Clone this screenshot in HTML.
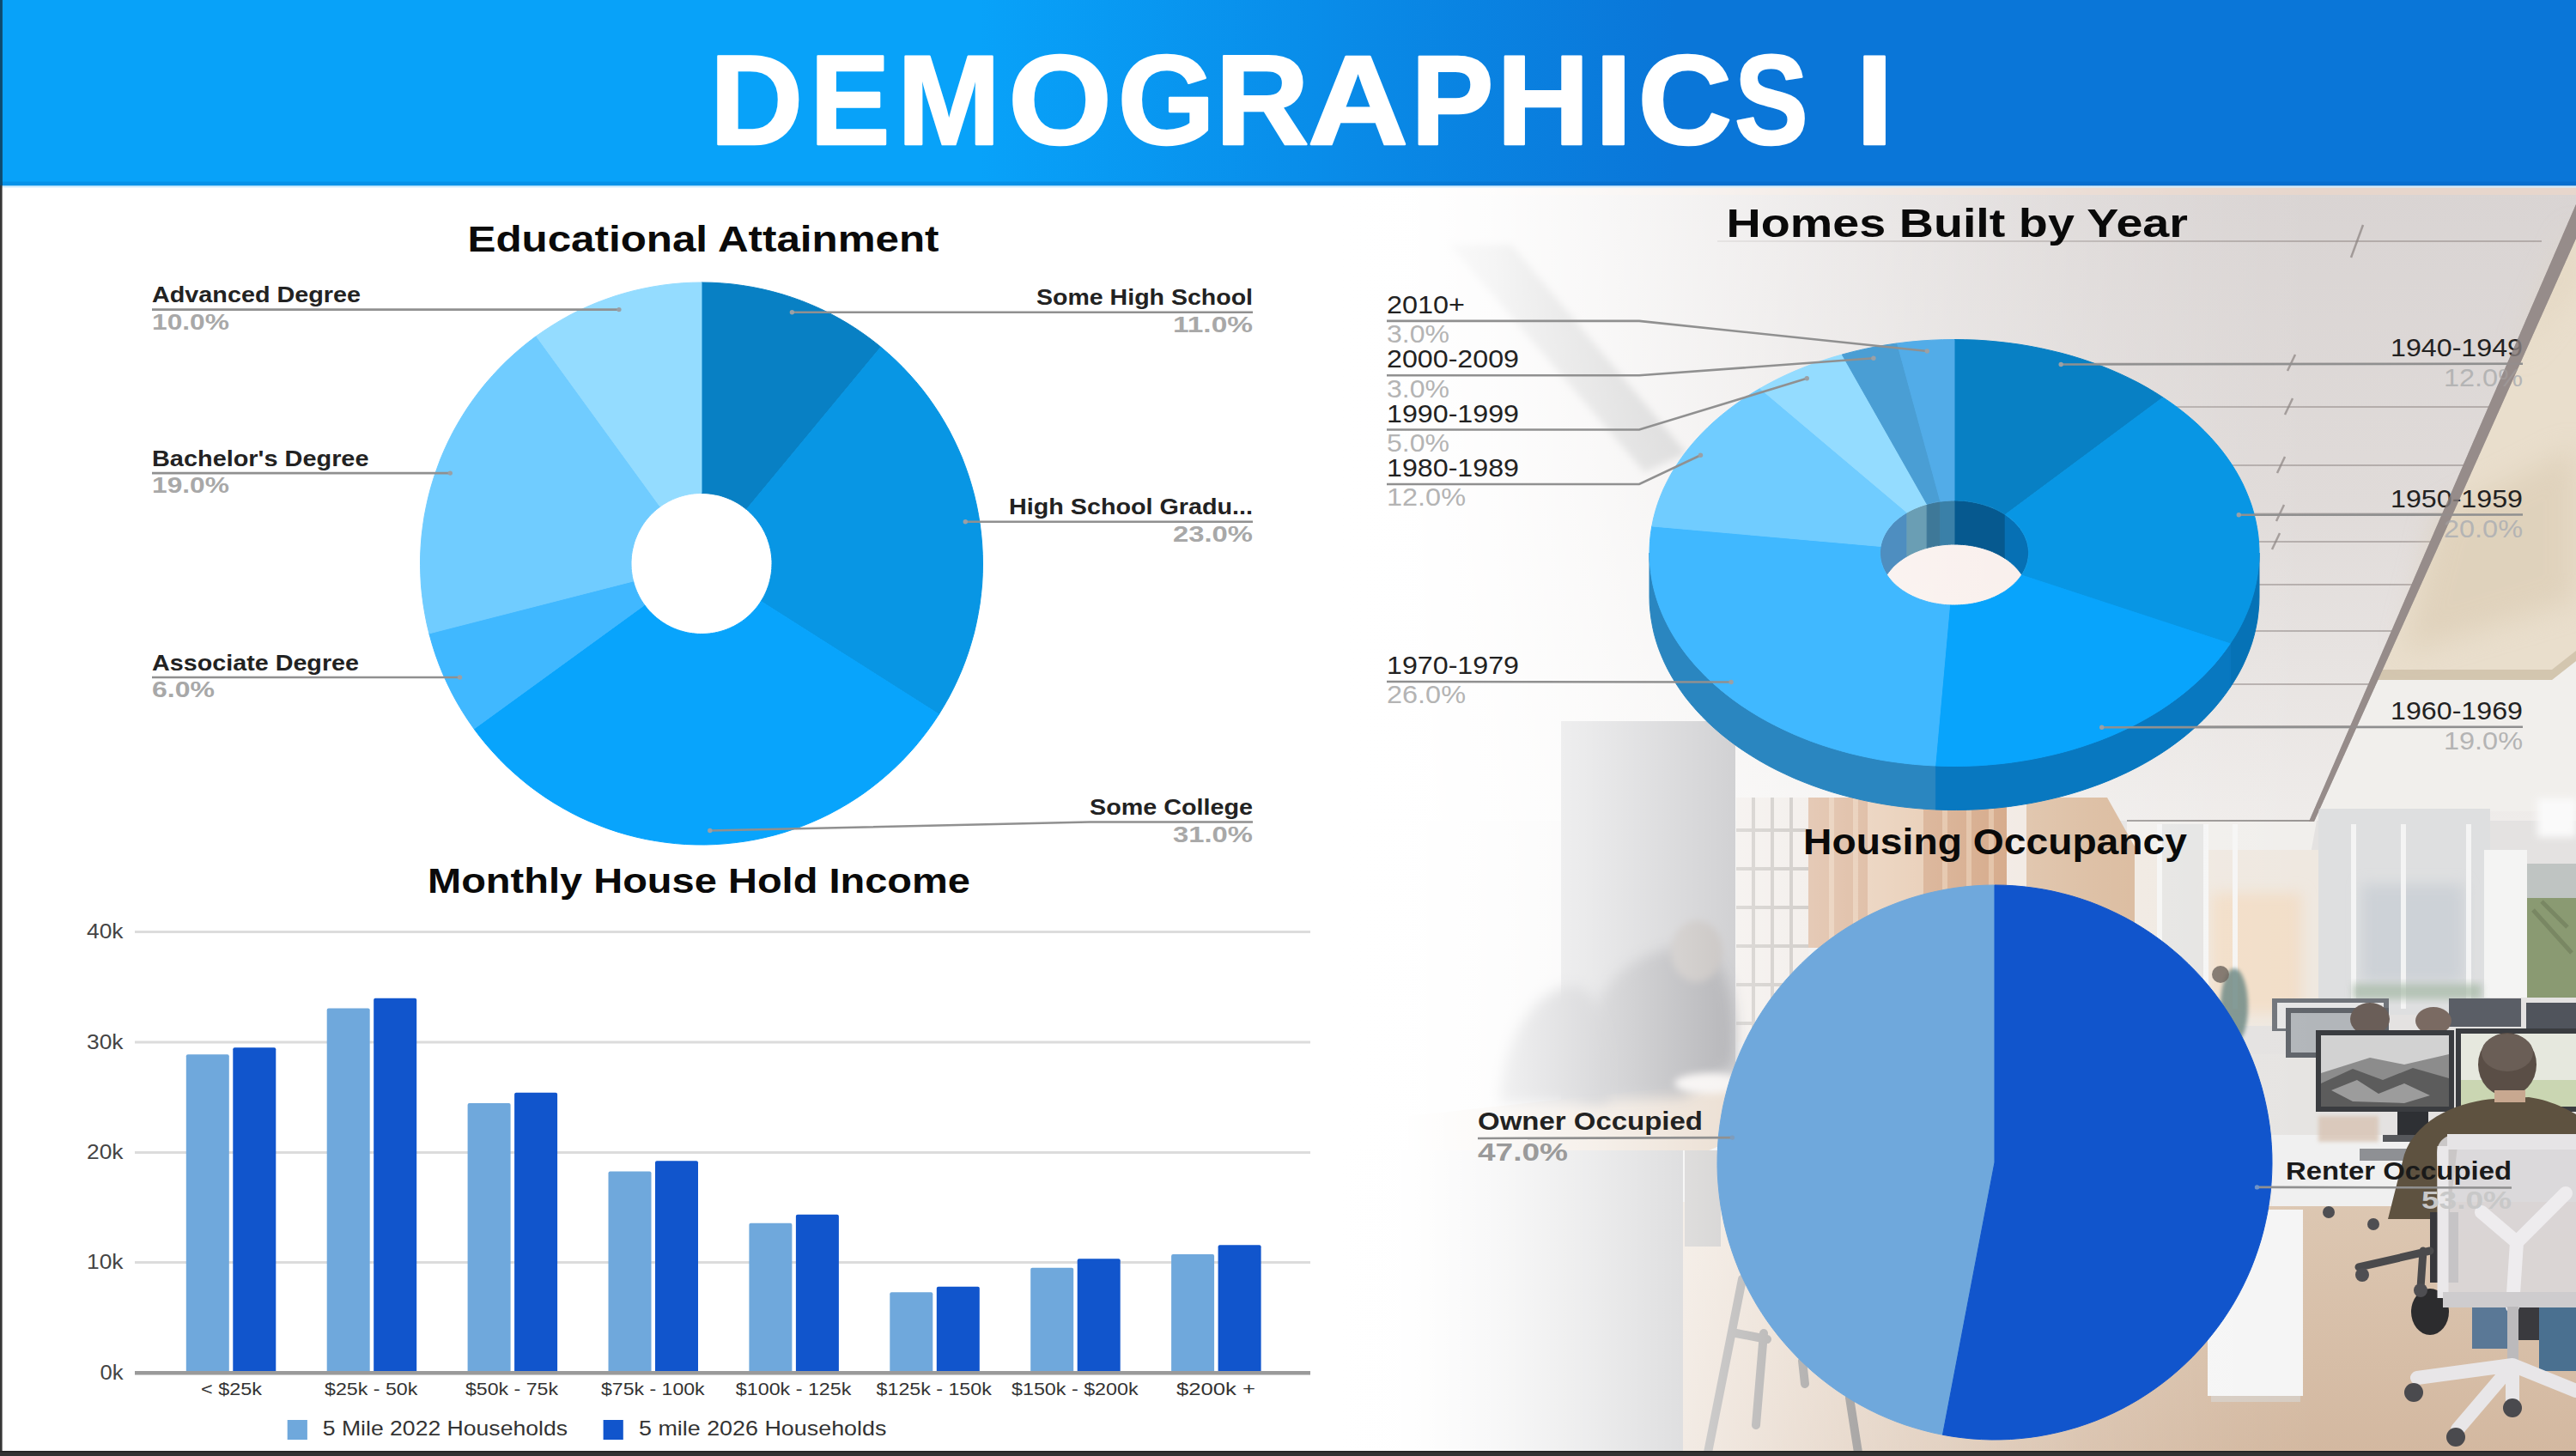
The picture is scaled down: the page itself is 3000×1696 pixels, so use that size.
<!DOCTYPE html>
<html><head><meta charset="utf-8"><title>Demographics I</title>
<style>
html,body{margin:0;padding:0;background:#fff}
body{width:3000px;height:1696px;overflow:hidden;font-family:"Liberation Sans",sans-serif}
svg{display:block}
text{font-family:"Liberation Sans",sans-serif}
</style></head><body>
<svg width="3000" height="1696" viewBox="0 0 3000 1696">
<defs>
<linearGradient id="hg" x1="0" x2="3000" y1="0" y2="0" gradientUnits="userSpaceOnUse"><stop offset="0.38" stop-color="#08A2F9"/><stop offset="0.65" stop-color="#0A76D8"/></linearGradient>
<linearGradient id="wf" x1="1560" x2="2700" y1="0" y2="0" gradientUnits="userSpaceOnUse"><stop offset="0.000" stop-color="#fff" stop-opacity="1.0"/><stop offset="0.070" stop-color="#fff" stop-opacity="0.995"/><stop offset="0.158" stop-color="#fff" stop-opacity="0.94"/><stop offset="0.254" stop-color="#fff" stop-opacity="0.84"/><stop offset="0.386" stop-color="#fff" stop-opacity="0.67"/><stop offset="0.518" stop-color="#fff" stop-opacity="0.49"/><stop offset="0.649" stop-color="#fff" stop-opacity="0.32"/><stop offset="0.781" stop-color="#fff" stop-opacity="0.16"/><stop offset="0.912" stop-color="#fff" stop-opacity="0.05"/><stop offset="1.000" stop-color="#fff" stop-opacity="0"/></linearGradient>
<linearGradient id="fl" x1="0" x2="0" y1="1380" y2="1696" gradientUnits="userSpaceOnUse"><stop offset="0" stop-color="#DDC8B3"/><stop offset="1" stop-color="#D3B8A0"/></linearGradient>
<linearGradient id="scr" x1="0" x2="0" y1="0" y2="1"><stop offset="0" stop-color="#D2D2D2"/><stop offset="0.45" stop-color="#9A9A9A"/><stop offset="1" stop-color="#5E5E5E"/></linearGradient>
<filter id="b2" x="-30%" y="-30%" width="160%" height="160%"><feGaussianBlur stdDeviation="2"/></filter>
<filter id="b4" x="-30%" y="-30%" width="160%" height="160%"><feGaussianBlur stdDeviation="4"/></filter>
<filter id="b8" x="-30%" y="-30%" width="160%" height="160%"><feGaussianBlur stdDeviation="8"/></filter>
<filter id="b16" x="-30%" y="-30%" width="160%" height="160%"><feGaussianBlur stdDeviation="16"/></filter>
<filter id="b30" x="-30%" y="-30%" width="160%" height="160%"><feGaussianBlur stdDeviation="30"/></filter>
</defs>
<g id="photo">
<linearGradient id="cg" x1="0" x2="0" y1="215" y2="960" gradientUnits="userSpaceOnUse"><stop offset="0" stop-color="#D9D4D3"/><stop offset="0.5" stop-color="#E0DBD9"/><stop offset="1" stop-color="#EFECEA"/></linearGradient>
<rect x="1480" y="215" width="1520" height="745" fill="url(#cg)"/>
<line x1="2000" y1="281" x2="2960" y2="281" stroke="#A39B99" stroke-width="2" opacity="0.7"/>
<line x1="2100" y1="423.5" x2="2960" y2="423.5" stroke="#A39B99" stroke-width="2" opacity="0.7"/>
<line x1="2100" y1="474" x2="2960" y2="474" stroke="#A39B99" stroke-width="2" opacity="0.7"/>
<line x1="2100" y1="542" x2="2960" y2="542" stroke="#A39B99" stroke-width="2" opacity="0.7"/>
<line x1="2100" y1="598.6" x2="2960" y2="598.6" stroke="#A39B99" stroke-width="2" opacity="0.7"/>
<line x1="2100" y1="631" x2="2960" y2="631" stroke="#A39B99" stroke-width="2" opacity="0.7"/>
<line x1="2420" y1="681" x2="2960" y2="681" stroke="#A39B99" stroke-width="2" opacity="0.7"/>
<line x1="2100" y1="735" x2="2960" y2="735" stroke="#A39B99" stroke-width="2" opacity="0.7"/>
<line x1="2100" y1="797" x2="2960" y2="797" stroke="#A39B99" stroke-width="2" opacity="0.7"/>
<line x1="2100" y1="846" x2="2960" y2="846" stroke="#A39B99" stroke-width="2" opacity="0.7"/>
<line x1="2673" y1="413" x2="2664" y2="432" stroke="#8A8280" stroke-width="2.5" opacity="0.7"/>
<line x1="2670" y1="464" x2="2661" y2="483" stroke="#8A8280" stroke-width="2.5" opacity="0.7"/>
<line x1="2661" y1="532" x2="2652" y2="551" stroke="#8A8280" stroke-width="2.5" opacity="0.7"/>
<line x1="2660" y1="588" x2="2651" y2="607" stroke="#8A8280" stroke-width="2.5" opacity="0.7"/>
<line x1="2655" y1="621" x2="2646" y2="640" stroke="#8A8280" stroke-width="2.5" opacity="0.7"/>
<line x1="2752" y1="262" x2="2738" y2="300" stroke="#8A8280" stroke-width="2.5" opacity="0.7"/>
<rect x="1480" y="218" width="1520" height="9" fill="#E8D6CB" opacity="0.9"/>
<ellipse cx="2276" cy="672" rx="110" ry="60" fill="#FBEDE8" opacity="0.85" filter="url(#b8)"/>
<linearGradient id="lf" x1="1700" y1="290" x2="1940" y2="540" gradientUnits="userSpaceOnUse"><stop offset="0" stop-color="#303030"/><stop offset="1" stop-color="#7A7A7A"/></linearGradient>
<polygon points="1688,285 1760,285 1964,528 1915,550" fill="url(#lf)" filter="url(#b4)" opacity="0.8"/>
<polygon points="3018,215 3000,215 3000,770 2972,792 2768,792" fill="#E9DECC"/>
<polygon points="2981,300 3000,260 3000,330 2929,420" fill="#E0D2BC" opacity="0.6" filter="url(#b16)"/>
<polygon points="2840,600 3000,520 3000,700 2800,760" fill="#DACBB2" opacity="0.6" filter="url(#b16)"/>
<polygon points="2768,792 2972,792 3000,770 3000,945 2702,945" fill="#F1EFEC"/>
<polygon points="2766,780 2972,780 3000,758 3000,770 2972,792 2760,792" fill="#CDBFA8" opacity="0.8"/>
<rect x="1480" y="956" width="1520" height="740" fill="#E4E2E1"/>
<rect x="2477" y="955" width="213" height="3" fill="#9A9694"/>
<polygon points="2477,957 2695,957 2729,880 3000,880 3000,945 2700,945 2690,1000 2477,1000" fill="#F1EFEC"/>
<polygon points="3010,215 3028,215 2856,600 2695,957 2689,957" fill="#968C8A"/>
<rect x="2470" y="990" width="240" height="205" fill="#EFE8E0"/>
<rect x="2575" y="1040" width="105" height="140" fill="#F2DEC8" filter="url(#b8)"/>
<rect x="2512" y="960" width="58" height="230" fill="#E2E2E2" opacity="0.8"/>
<rect x="2700" y="942" width="200" height="240" fill="#DEDFE0"/>
<rect x="2750" y="1030" width="120" height="115" fill="#CDD2D7" filter="url(#b8)"/>
<rect x="2512" y="960" width="6" height="215" fill="#F6F6F6" opacity="0.9"/>
<rect x="2566" y="960" width="6" height="215" fill="#F6F6F6" opacity="0.9"/>
<rect x="2600" y="960" width="6" height="215" fill="#F6F6F6" opacity="0.9"/>
<rect x="2738" y="960" width="6" height="215" fill="#F6F6F6" opacity="0.9"/>
<rect x="2796" y="960" width="6" height="215" fill="#F6F6F6" opacity="0.9"/>
<rect x="2872" y="960" width="6" height="215" fill="#F6F6F6" opacity="0.9"/>
<rect x="2893" y="990" width="50" height="172" fill="#F4F4F3"/>
<rect x="2943" y="1006" width="57" height="156" fill="#8A9A72"/>
<rect x="2943" y="1006" width="57" height="40" fill="#BFC4C2"/>
<path d="M2950,1060 L2995,1110 M2960,1050 L2990,1080" stroke="#6E7C5A" stroke-width="5" opacity="0.6"/>
<rect x="2955" y="930" width="45" height="45" fill="#FAFAFA" filter="url(#b4)"/>
<rect x="2740" y="1146" width="150" height="18" fill="#A4B8A4" opacity="0.7" filter="url(#b4)"/>
<ellipse cx="2602" cy="1172" rx="16" ry="44" fill="#6A8682" opacity="0.85" filter="url(#b2)"/>
<circle cx="2586" cy="1135" r="10" fill="#6A6058" opacity="0.85"/>
<rect x="2105" y="929" width="232" height="175" fill="#C78C61"/>
<rect x="2175" y="929" width="65" height="175" fill="#DDB592"/>
<rect x="2130" y="929" width="6" height="175" fill="#D9AC86"/>
<rect x="2158" y="929" width="6" height="175" fill="#D9AC86"/>
<rect x="2262" y="929" width="6" height="175" fill="#D9AC86"/>
<rect x="2290" y="929" width="6" height="175" fill="#D9AC86"/>
<rect x="2316" y="929" width="6" height="175" fill="#D9AC86"/>
<rect x="2337" y="929" width="24" height="175" fill="#EEE4DC"/>
<polygon points="2360,929 2454,929 2486,986 2486,1104 2360,1104" fill="#D7B494"/>
<rect x="2022" y="929" width="84" height="285" fill="#E6DDD6"/>
<rect x="2040" y="929" width="4" height="285" fill="#A09890"/>
<rect x="2062" y="929" width="4" height="285" fill="#A09890"/>
<rect x="2084" y="929" width="4" height="285" fill="#A09890"/>
<rect x="2022" y="965" width="84" height="4" fill="#A09890"/>
<rect x="2022" y="1010" width="84" height="4" fill="#A09890"/>
<rect x="2022" y="1055" width="84" height="4" fill="#A09890"/>
<rect x="2022" y="1100" width="84" height="4" fill="#A09890"/>
<rect x="2022" y="1145" width="84" height="4" fill="#A09890"/>
<rect x="2022" y="1190" width="84" height="4" fill="#A09890"/>
<rect x="1818" y="840" width="203" height="480" fill="#7E7E84"/>
<rect x="1480" y="1340" width="480" height="356" fill="#8E8E92"/>
<polygon points="1640,1300 2080,1252 2110,1290 1990,1340 1640,1340" fill="#C8A684"/>
<path d="M1840,1282 C1835,1170 1880,1112 1960,1102 C2012,1100 2024,1170 2018,1240 L1960,1278 Z" fill="#30323A" filter="url(#b8)"/>
<ellipse cx="1976" cy="1108" rx="30" ry="36" fill="#6A5E58" filter="url(#b4)"/>
<path d="M1745,1285 C1752,1195 1795,1148 1835,1148 C1870,1158 1878,1225 1872,1285 Z" fill="#2C2C34" filter="url(#b8)"/>
<ellipse cx="1990" cy="1262" rx="40" ry="12" fill="#E8E0DC" filter="url(#b4)"/>
<rect x="1960" y="1400" width="1040" height="296" fill="url(#fl)"/>
<rect x="2004" y="1340" width="680" height="62" fill="#DDC8B3"/>
<rect x="1962" y="1340" width="42" height="112" fill="#8E8A88"/>
<path d="M2029,1490 L1989,1692 M2054,1553 L2045,1660 M2022,1553 L2058,1560 M2099,1585 L2102,1612 M2154,1628 L2164,1692" stroke="#5E5A58" stroke-width="10" fill="none" stroke-linecap="round"/>
<rect x="2560" y="1300" width="100" height="105" fill="#EDEBEA"/>
<rect x="2620" y="1228" width="82" height="112" fill="#E6E4E2"/>
<rect x="2646" y="1322" width="178" height="83" fill="#F0F0F0"/>
<rect x="2700" y="1300" width="70" height="30" fill="#D8C4B4" opacity="0.8" filter="url(#b2)"/>
<rect x="2748" y="1338" width="75" height="14" fill="#8E9094"/>
<rect x="2571" y="1409" width="111" height="217" fill="#F5F5F5"/>
<rect x="2575" y="1626" width="104" height="7" fill="#D6CCC2"/>
<rect x="2646" y="1163" width="136" height="38" fill="#70747A"/>
<rect x="2652" y="1168" width="124" height="30" fill="#E6E6E6"/>
<rect x="2662" y="1174" width="120" height="58" fill="#60646A"/>
<rect x="2668" y="1180" width="108" height="46" fill="#B2B6BA"/>
<rect x="2852" y="1163" width="84" height="33" fill="#5A5E66"/>
<rect x="2942" y="1168" width="58" height="30" fill="#50545C"/>
<ellipse cx="2760" cy="1187" rx="23" ry="19" fill="#6A5E58"/>
<ellipse cx="2834" cy="1189" rx="21" ry="16" fill="#7A6A62"/>
<rect x="2697" y="1200" width="161" height="95" fill="#3A3C40"/>
<rect x="2703" y="1206" width="149" height="83" fill="#8C8C8C"/>
<polygon points="2703,1206 2852,1206 2852,1228 2800,1240 2760,1232 2703,1250" fill="#D2D2D2"/>
<polygon points="2703,1262 2740,1245 2775,1258 2810,1244 2852,1256 2852,1289 2703,1289" fill="#5C5C5C"/>
<polygon points="2715,1270 2745,1258 2770,1274 2800,1262 2830,1276 2800,1285 2740,1283" fill="#B8B8B8" opacity="0.7"/>
<rect x="2860" y="1198" width="140" height="97" fill="#3A3C40"/>
<rect x="2866" y="1204" width="134" height="85" fill="#E6E8DE"/>
<rect x="2866" y="1258" width="134" height="31" fill="#CAD6B2"/>
<rect x="2792" y="1295" width="36" height="30" fill="#2E3034"/>
<rect x="2775" y="1322" width="70" height="8" fill="#55575B"/>
<path d="M2781,1420 L2800,1345 C2815,1300 2870,1282 2905,1280 L2945,1278 C2975,1282 3000,1298 3000,1298 L3000,1335 L2862,1335 L2852,1420 Z" fill="#5E5240"/>
<ellipse cx="2920" cy="1240" rx="34" ry="37" fill="#5A4E46"/>
<ellipse cx="2920" cy="1226" rx="30" ry="22" fill="#6A5E56"/>
<rect x="2905" y="1270" width="36" height="14" fill="#C8A890"/>
<rect x="2830" y="1412" width="33" height="82" fill="#38383C"/>
<ellipse cx="2830" cy="1528" rx="22" ry="27" fill="#2C2C2E"/>
<path d="M2747,1476 L2830,1457 M2822,1457 L2819,1500" stroke="#4A4A4C" stroke-width="9" fill="none" stroke-linecap="round"/>
<circle cx="2751" cy="1485" r="8" fill="#4E4E52"/>
<circle cx="2819" cy="1503" r="8" fill="#4E4E52"/>
<circle cx="2712" cy="1412" r="7" fill="#4E4E52"/>
<circle cx="2764" cy="1426" r="7" fill="#4E4E52"/>
<rect x="2879" y="1523" width="42" height="48" fill="#5A7896"/>
<rect x="2920" y="1523" width="38" height="38" fill="#3A3A3E"/>
<rect x="2957" y="1523" width="43" height="74" fill="#4A7090"/>
<path d="M2838,1345 C2838,1328 2848,1321 2866,1321 L3000,1321 L3000,1522 L2866,1522 C2850,1522 2840,1512 2840,1495 Z" fill="#DAD7D9" opacity="0.88"/>
<rect x="2850" y="1321" width="150" height="18" fill="#E6E4E6"/>
<path d="M2845,1335 L2845,1512" stroke="#EAE8EA" stroke-width="13" fill="none"/>
<path d="M2890,1412 L2931,1447 L2988,1390 M2931,1447 L2926,1522" stroke="#EEECEE" stroke-width="16" fill="none" stroke-linecap="round" stroke-linejoin="round"/>
<rect x="2845" y="1505" width="155" height="18" fill="#CECCCE"/>
<rect x="2920" y="1522" width="13" height="70" fill="#BCBABC"/>
<path d="M2926,1590 L2815,1605 M2926,1590 L2862,1665 M2926,1590 L3000,1620 M2926,1590 L2926,1632" stroke="#E8E6E8" stroke-width="16" fill="none" stroke-linecap="round"/>
<circle cx="2811" cy="1622" r="11" fill="#4A4A4E"/>
<circle cx="2860" cy="1674" r="11" fill="#4A4A4E"/>
<circle cx="2926" cy="1640" r="11" fill="#4A4A4E"/>
</g>
<rect x="1480" y="215" width="80" height="1481" fill="#fff"/>
<rect x="1560" y="215" width="1140" height="1481" fill="url(#wf)"/>
<rect x="0" y="0" width="3000" height="216.5" fill="url(#hg)"/>
<rect x="0" y="211.5" width="3000" height="5" fill="#0050A0" opacity="0.18"/>
<rect x="0" y="216.5" width="3000" height="2" fill="#D4EEFF"/>
<text transform="translate(826.62,168.20) scale(1.0146,1)" font-size="148.5" font-weight="bold" fill="#fff" stroke="#fff" stroke-width="2.6" stroke-linejoin="round">D</text>
<text transform="translate(943.35,168.20) scale(0.9410,1)" font-size="148.5" font-weight="bold" fill="#fff" stroke="#fff" stroke-width="2.6" stroke-linejoin="round">E</text>
<text transform="translate(1045.06,168.20) scale(0.9708,1)" font-size="148.5" font-weight="bold" fill="#fff" stroke="#fff" stroke-width="2.6" stroke-linejoin="round">M</text>
<text transform="translate(1174.14,168.20) scale(1.0448,1)" font-size="148.5" font-weight="bold" fill="#fff" stroke="#fff" stroke-width="2.6" stroke-linejoin="round">O</text>
<text transform="translate(1301.64,168.20) scale(0.9790,1)" font-size="148.5" font-weight="bold" fill="#fff" stroke="#fff" stroke-width="2.6" stroke-linejoin="round">G</text>
<text transform="translate(1415.18,168.20) scale(1.0184,1)" font-size="148.5" font-weight="bold" fill="#fff" stroke="#fff" stroke-width="2.6" stroke-linejoin="round">R</text>
<text transform="translate(1522.96,168.20) scale(1.0921,1)" font-size="148.5" font-weight="bold" fill="#fff" stroke="#fff" stroke-width="2.6" stroke-linejoin="round">A</text>
<text transform="translate(1643.14,168.20) scale(0.9722,1)" font-size="148.5" font-weight="bold" fill="#fff" stroke="#fff" stroke-width="2.6" stroke-linejoin="round">P</text>
<text transform="translate(1742.96,168.20) scale(1.0103,1)" font-size="148.5" font-weight="bold" fill="#fff" stroke="#fff" stroke-width="2.6" stroke-linejoin="round">H</text>
<text transform="translate(1856.97,168.20) scale(1.0706,1)" font-size="148.5" font-weight="bold" fill="#fff" stroke="#fff" stroke-width="2.6" stroke-linejoin="round">I</text>
<text transform="translate(1907.57,168.20) scale(1.0228,1)" font-size="148.5" font-weight="bold" fill="#fff" stroke="#fff" stroke-width="2.6" stroke-linejoin="round">C</text>
<text transform="translate(2019.90,168.20) scale(0.8655,1)" font-size="148.5" font-weight="bold" fill="#fff" stroke="#fff" stroke-width="2.6" stroke-linejoin="round">S</text>
<text transform="translate(2160.97,168.20) scale(1.0706,1)" font-size="148.5" font-weight="bold" fill="#fff" stroke="#fff" stroke-width="2.6" stroke-linejoin="round">I</text>
<text x="544.5" y="293.0" font-size="42" font-weight="bold" fill="#0a0a0a" textLength="549.0" lengthAdjust="spacingAndGlyphs">Educational Attainment</text>
<text x="2010.5" y="276.0" font-size="46.5" font-weight="bold" fill="#0a0a0a" textLength="537.5" lengthAdjust="spacingAndGlyphs">Homes Built by Year</text>
<text x="498.0" y="1039.5" font-size="40" font-weight="bold" fill="#0a0a0a" textLength="632.0" lengthAdjust="spacingAndGlyphs">Monthly House Hold Income</text>
<text x="2100.0" y="995.4" font-size="43" font-weight="bold" fill="#0a0a0a" textLength="447.0" lengthAdjust="spacingAndGlyphs">Housing Occupancy</text>
<path d="M817.0,329.0 L828.9,329.2 L840.8,329.9 L852.7,330.9 L864.5,332.5 L876.2,334.4 L887.9,336.8 L899.5,339.6 L911.0,342.8 L922.3,346.4 L933.5,350.4 L944.6,354.9 L955.5,359.7 L966.2,364.9 L976.7,370.6 L987.0,376.6 L997.0,382.9 L1006.9,389.7 L1016.4,396.7 L1025.8,404.2 L869.3,593.3 L866.9,591.5 L864.5,589.7 L862.1,588.0 L859.6,586.4 L857.0,584.9 L854.3,583.5 L851.7,582.2 L848.9,581.0 L846.2,579.9 L843.4,578.9 L840.5,577.9 L837.7,577.1 L834.8,576.4 L831.8,575.9 L828.9,575.4 L825.9,575.0 L823.0,574.7 L820.0,574.6 L817.0,574.5Z" fill="#0880C4" stroke="#0880C4" stroke-width="1"/>
<path d="M1025.8,404.2 L1034.5,411.7 L1043.0,419.5 L1051.2,427.6 L1059.1,436.0 L1066.8,444.7 L1074.1,453.6 L1081.1,462.8 L1087.7,472.2 L1094.1,481.9 L1100.0,491.7 L1105.7,501.8 L1110.9,512.1 L1115.8,522.5 L1120.4,533.1 L1124.5,543.9 L1128.3,554.8 L1131.7,565.9 L1134.7,577.0 L1137.3,588.2 L1139.5,599.6 L1141.3,611.0 L1142.7,622.4 L1143.7,633.9 L1144.3,645.5 L1144.5,657.0 L1144.3,668.5 L1143.7,680.1 L1142.6,691.6 L1141.2,703.0 L1139.3,714.4 L1137.1,725.7 L1134.5,737.0 L1131.4,748.1 L1128.0,759.1 L1124.2,770.0 L1120.0,780.8 L1115.4,791.4 L1110.5,801.8 L1105.2,812.1 L1099.5,822.1 L1093.5,832.0 L886.2,700.4 L887.7,698.0 L889.2,695.5 L890.5,692.9 L891.7,690.3 L892.9,687.6 L893.9,684.9 L894.9,682.2 L895.7,679.4 L896.5,676.6 L897.1,673.8 L897.7,671.0 L898.2,668.1 L898.5,665.3 L898.8,662.4 L898.9,659.5 L899.0,656.6 L899.0,653.7 L898.8,650.8 L898.6,648.0 L898.2,645.1 L897.8,642.2 L897.2,639.4 L896.5,636.6 L895.8,633.8 L894.9,631.0 L894.0,628.3 L893.0,625.6 L891.8,623.0 L890.6,620.3 L889.3,617.8 L887.9,615.2 L886.4,612.8 L884.8,610.4 L883.1,608.0 L881.4,605.7 L879.5,603.5 L877.6,601.3 L875.6,599.2 L873.6,597.2 L871.5,595.2 L869.3,593.3Z" fill="#0896E4" stroke="#0896E4" stroke-width="1"/>
<path d="M1093.5,832.0 L1087.1,841.7 L1080.4,851.1 L1073.3,860.3 L1066.0,869.3 L1058.3,877.9 L1050.3,886.4 L1042.0,894.5 L1033.4,902.3 L1024.6,909.8 L1015.5,917.0 L1006.2,923.9 L996.6,930.4 L986.8,936.6 L976.7,942.4 L966.5,947.9 L956.1,953.0 L945.5,957.7 L934.8,962.1 L923.9,966.1 L912.9,969.7 L901.7,972.9 L890.4,975.7 L879.1,978.1 L867.7,980.1 L856.2,981.6 L844.7,982.8 L833.1,983.6 L821.5,984.0 L809.9,983.9 L798.3,983.5 L786.7,982.6 L775.2,981.3 L763.7,979.6 L752.3,977.6 L741.0,975.1 L729.8,972.2 L718.6,968.9 L707.6,965.2 L696.8,961.1 L686.1,956.7 L675.5,951.9 L665.2,946.7 L655.0,941.1 L645.0,935.2 L635.2,928.9 L625.7,922.3 L616.4,915.4 L607.4,908.1 L598.6,900.5 L590.1,892.7 L581.9,884.5 L574.0,876.0 L566.3,867.3 L559.0,858.3 L552.0,849.0 L750.7,704.7 L752.4,707.0 L754.2,709.3 L756.1,711.5 L758.1,713.6 L760.2,715.6 L762.3,717.6 L764.5,719.5 L766.8,721.3 L769.1,723.1 L771.5,724.7 L773.9,726.3 L776.4,727.8 L779.0,729.2 L781.6,730.5 L784.2,731.7 L786.9,732.8 L789.6,733.8 L792.4,734.7 L795.2,735.5 L798.0,736.3 L800.8,736.9 L803.7,737.4 L806.5,737.8 L809.4,738.1 L812.3,738.4 L815.2,738.5 L818.1,738.5 L821.0,738.4 L823.9,738.2 L826.8,737.9 L829.7,737.5 L832.5,737.0 L835.4,736.4 L838.2,735.7 L841.0,734.9 L843.8,734.0 L846.5,733.0 L849.2,731.9 L851.8,730.7 L854.4,729.5 L857.0,728.1 L859.5,726.6 L862.0,725.1 L864.4,723.4 L866.7,721.7 L869.0,719.9 L871.2,718.0 L873.3,716.1 L875.4,714.1 L877.4,711.9 L879.3,709.8 L881.2,707.5 L883.0,705.2 L884.6,702.9 L886.2,700.4Z" fill="#08A4FC" stroke="#08A4FC" stroke-width="1"/>
<path d="M552.0,849.0 L545.0,838.9 L538.3,828.5 L532.0,817.9 L526.1,807.0 L520.7,795.9 L515.6,784.7 L511.0,773.2 L506.8,761.6 L503.1,749.8 L499.8,737.9 L737.6,676.9 L738.4,679.9 L739.3,682.8 L740.4,685.7 L741.5,688.6 L742.8,691.4 L744.2,694.2 L745.6,696.9 L747.2,699.6 L748.9,702.2 L750.7,704.7Z" fill="#40B8FF" stroke="#40B8FF" stroke-width="1"/>
<path d="M499.8,737.9 L497.1,726.8 L494.9,715.5 L493.0,704.1 L491.5,692.7 L490.4,681.3 L489.8,669.8 L489.5,658.3 L489.6,646.8 L490.2,635.3 L491.1,623.9 L492.5,612.5 L494.2,601.1 L496.4,589.8 L498.9,578.6 L501.8,567.5 L505.2,556.4 L508.9,545.6 L512.9,534.8 L517.4,524.2 L522.2,513.8 L527.4,503.5 L533.0,493.4 L538.9,483.6 L545.1,473.9 L551.7,464.5 L558.6,455.3 L565.8,446.3 L573.4,437.7 L581.2,429.2 L589.3,421.1 L597.7,413.3 L606.4,405.7 L615.3,398.5 L624.5,391.5 L768.8,590.2 L766.5,591.9 L764.3,593.7 L762.1,595.6 L760.0,597.6 L758.0,599.6 L756.0,601.7 L754.1,603.9 L752.3,606.1 L750.6,608.4 L748.9,610.8 L747.4,613.2 L745.9,615.7 L744.5,618.2 L743.2,620.8 L742.0,623.4 L740.9,626.0 L739.8,628.7 L738.9,631.4 L738.1,634.2 L737.4,637.0 L736.7,639.8 L736.2,642.6 L735.7,645.5 L735.4,648.3 L735.2,651.2 L735.0,654.1 L735.0,657.0 L735.1,659.8 L735.2,662.7 L735.5,665.6 L735.9,668.4 L736.3,671.3 L736.9,674.1 L737.6,676.9Z" fill="#70CCFF" stroke="#70CCFF" stroke-width="1"/>
<path d="M624.5,391.5 L633.9,385.0 L643.5,378.8 L653.2,372.9 L663.2,367.3 L673.4,362.1 L683.8,357.3 L694.3,352.8 L705.0,348.8 L715.8,345.0 L726.7,341.7 L737.8,338.7 L748.9,336.2 L760.1,334.0 L771.4,332.2 L782.8,330.8 L794.2,329.8 L805.6,329.2 L817.0,329.0 L817.0,574.5 L814.1,574.5 L811.3,574.7 L808.4,574.9 L805.6,575.3 L802.8,575.7 L800.0,576.3 L797.2,576.9 L794.4,577.7 L791.7,578.5 L789.0,579.4 L786.3,580.5 L783.6,581.6 L781.1,582.8 L778.5,584.1 L776.0,585.5 L773.5,587.0 L771.1,588.5 L768.8,590.2Z" fill="#94DCFF" stroke="#94DCFF" stroke-width="1"/>
<path d="M177,360.6 L720.9,360.6" stroke="#909090" stroke-width="2.6" fill="none"/>
<text x="177.0" y="352.1" font-size="25" font-weight="bold" fill="#222" textLength="243.0" lengthAdjust="spacingAndGlyphs">Advanced Degree</text>
<text x="177.0" y="383.6" font-size="25" font-weight="bold" fill="#A8A8A8" textLength="90.0" lengthAdjust="spacingAndGlyphs">10.0%</text>
<circle cx="720.9" cy="360.6" r="2.7" fill="#9AA0A6"/>
<path d="M177,551.1 L524.3,551.1" stroke="#909090" stroke-width="2.6" fill="none"/>
<text x="177.0" y="542.6" font-size="25" font-weight="bold" fill="#222" textLength="252.5" lengthAdjust="spacingAndGlyphs">Bachelor's Degree</text>
<text x="177.0" y="574.1" font-size="25" font-weight="bold" fill="#A8A8A8" textLength="90.0" lengthAdjust="spacingAndGlyphs">19.0%</text>
<circle cx="524.3" cy="551.1" r="2.7" fill="#9AA0A6"/>
<path d="M177,789.0 L535.5,789.0" stroke="#909090" stroke-width="2.6" fill="none"/>
<text x="177.0" y="780.5" font-size="25" font-weight="bold" fill="#222" textLength="241.0" lengthAdjust="spacingAndGlyphs">Associate Degree</text>
<text x="177.0" y="812.0" font-size="25" font-weight="bold" fill="#A8A8A8" textLength="73.0" lengthAdjust="spacingAndGlyphs">6.0%</text>
<circle cx="535.5" cy="789.0" r="2.7" fill="#9AA0A6"/>
<path d="M922.4,363.8 L1459,363.8" stroke="#909090" stroke-width="2.6" fill="none"/>
<text x="1207.0" y="355.3" font-size="25" font-weight="bold" fill="#222" textLength="252.0" lengthAdjust="spacingAndGlyphs">Some High School</text>
<text x="1366.0" y="386.8" font-size="25" font-weight="bold" fill="#A8A8A8" textLength="93.0" lengthAdjust="spacingAndGlyphs">11.0%</text>
<circle cx="922.4" cy="363.8" r="2.7" fill="#9AA0A6"/>
<path d="M1124.3,607.8 L1459,607.8" stroke="#909090" stroke-width="2.6" fill="none"/>
<text x="1175.0" y="599.3" font-size="25" font-weight="bold" fill="#222" textLength="284.0" lengthAdjust="spacingAndGlyphs">High School Gradu...</text>
<text x="1366.0" y="630.8" font-size="25" font-weight="bold" fill="#A8A8A8" textLength="93.0" lengthAdjust="spacingAndGlyphs">23.0%</text>
<circle cx="1124.3" cy="607.8" r="2.7" fill="#9AA0A6"/>
<path d="M826.8,967.5 L1269.0,957.5 L1459,957.5" stroke="#909090" stroke-width="2.6" fill="none"/>
<text x="1269.0" y="949.0" font-size="25" font-weight="bold" fill="#222" textLength="190.0" lengthAdjust="spacingAndGlyphs">Some College</text>
<text x="1366.0" y="980.5" font-size="25" font-weight="bold" fill="#A8A8A8" textLength="93.0" lengthAdjust="spacingAndGlyphs">31.0%</text>
<circle cx="826.8" cy="967.5" r="2.7" fill="#9AA0A6"/>
<path d="M2631.0,644.0 L2630.8,653.1 L2630.0,662.2 L2628.9,671.3 L2627.2,680.3 L2625.1,689.3 L2622.5,698.2 L2619.4,707.1 L2615.8,715.8 L2611.9,724.5 L2607.4,733.1 L2602.5,741.5 L2597.2,749.8 L2597.2,800.8 L2602.5,792.5 L2607.4,784.1 L2611.9,775.5 L2615.8,766.8 L2619.4,758.1 L2622.5,749.2 L2625.1,740.3 L2627.2,731.3 L2628.9,722.3 L2630.0,713.2 L2630.8,704.1 L2631.0,695.0Z" fill="#0672B6" stroke="#0672B6" stroke-width="1"/>
<path d="M2597.2,749.8 L2591.7,757.6 L2585.8,765.3 L2579.5,772.9 L2572.9,780.2 L2565.9,787.5 L2558.5,794.5 L2550.8,801.3 L2542.7,808.0 L2534.3,814.4 L2525.6,820.7 L2516.6,826.7 L2507.3,832.5 L2497.7,838.1 L2487.8,843.4 L2477.7,848.5 L2467.3,853.3 L2456.7,857.9 L2445.9,862.2 L2434.8,866.2 L2423.6,870.0 L2412.2,873.5 L2400.6,876.7 L2388.8,879.6 L2376.9,882.2 L2364.9,884.6 L2352.8,886.6 L2340.6,888.4 L2328.3,889.8 L2315.9,890.9 L2303.5,891.8 L2291.1,892.3 L2278.6,892.5 L2266.2,892.4 L2253.7,892.0 L2253.7,943.0 L2266.2,943.4 L2278.6,943.5 L2291.1,943.3 L2303.5,942.8 L2315.9,941.9 L2328.3,940.8 L2340.6,939.4 L2352.8,937.6 L2364.9,935.6 L2376.9,933.2 L2388.8,930.6 L2400.6,927.7 L2412.2,924.5 L2423.6,921.0 L2434.8,917.2 L2445.9,913.2 L2456.7,908.9 L2467.3,904.3 L2477.7,899.5 L2487.8,894.4 L2497.7,889.1 L2507.3,883.5 L2516.6,877.7 L2525.6,871.7 L2534.3,865.4 L2542.7,859.0 L2550.8,852.3 L2558.5,845.5 L2565.9,838.5 L2572.9,831.2 L2579.5,823.9 L2585.8,816.3 L2591.7,808.6 L2597.2,800.8Z" fill="#0878C0" stroke="#0878C0" stroke-width="1"/>
<path d="M2253.7,892.0 L2241.3,891.3 L2228.9,890.3 L2216.6,889.0 L2204.4,887.4 L2192.2,885.5 L2180.2,883.3 L2168.3,880.8 L2156.5,878.0 L2144.8,874.9 L2133.3,871.6 L2122.0,867.9 L2110.9,864.0 L2100.0,859.8 L2089.3,855.4 L2078.8,850.6 L2068.6,845.7 L2058.6,840.5 L2048.9,835.0 L2039.5,829.3 L2030.4,823.4 L2021.5,817.3 L2013.0,810.9 L2004.8,804.4 L1996.9,797.6 L1989.4,790.7 L1982.2,783.5 L1975.4,776.2 L1969.0,768.8 L1962.9,761.2 L1957.3,753.4 L1952.0,745.5 L1947.1,737.5 L1942.6,729.4 L1938.5,721.1 L1934.9,712.8 L1931.6,704.4 L1928.8,695.9 L1926.4,687.4 L1924.5,678.7 L1923.0,670.1 L1921.9,661.4 L1921.2,652.7 L1921.0,644.0 L1921.0,695.0 L1921.2,703.7 L1921.9,712.4 L1923.0,721.1 L1924.5,729.7 L1926.4,738.4 L1928.8,746.9 L1931.6,755.4 L1934.9,763.8 L1938.5,772.1 L1942.6,780.4 L1947.1,788.5 L1952.0,796.5 L1957.3,804.4 L1962.9,812.2 L1969.0,819.8 L1975.4,827.2 L1982.2,834.5 L1989.4,841.7 L1996.9,848.6 L2004.8,855.4 L2013.0,861.9 L2021.5,868.3 L2030.4,874.4 L2039.5,880.3 L2048.9,886.0 L2058.6,891.5 L2068.6,896.7 L2078.8,901.6 L2089.3,906.4 L2100.0,910.8 L2110.9,915.0 L2122.0,918.9 L2133.3,922.6 L2144.8,925.9 L2156.5,929.0 L2168.3,931.8 L2180.2,934.3 L2192.2,936.5 L2204.4,938.4 L2216.6,940.0 L2228.9,941.3 L2241.3,942.3 L2253.7,943.0Z" fill="#2A86C0" stroke="#2A86C0" stroke-width="1"/>
<clipPath id="hole"><ellipse cx="2276" cy="644" rx="86.5" ry="61"/></clipPath>
<g clip-path="url(#hole)">
<path d="M2276.0,583.0 L2279.1,583.0 L2282.2,583.2 L2285.3,583.4 L2288.4,583.6 L2291.4,584.0 L2294.5,584.4 L2297.5,584.9 L2300.5,585.5 L2303.5,586.2 L2306.4,586.9 L2309.3,587.7 L2312.1,588.6 L2314.9,589.5 L2317.7,590.5 L2320.4,591.6 L2323.0,592.8 L2325.6,594.0 L2328.1,595.3 L2330.5,596.7 L2332.9,598.1 L2335.2,599.5 L2335.2,650.5 L2332.9,649.1 L2330.5,647.7 L2328.1,646.3 L2325.6,645.0 L2323.0,643.8 L2320.4,642.6 L2317.7,641.5 L2314.9,640.5 L2312.1,639.6 L2309.3,638.7 L2306.4,637.9 L2303.5,637.2 L2300.5,636.5 L2297.5,635.9 L2294.5,635.4 L2291.4,635.0 L2288.4,634.6 L2285.3,634.4 L2282.2,634.2 L2279.1,634.0 L2276.0,634.0Z" fill="#06598F" stroke="#06598F" stroke-width="1"/>
<path d="M2335.2,599.5 L2337.4,601.0 L2339.5,602.6 L2341.6,604.2 L2343.5,605.9 L2345.4,607.6 L2347.2,609.4 L2348.9,611.2 L2350.5,613.0 L2352.0,614.9 L2353.4,616.8 L2354.8,618.8 L2356.0,620.8 L2357.1,622.8 L2358.1,624.8 L2359.0,626.9 L2359.8,629.0 L2360.5,631.1 L2361.1,633.2 L2361.6,635.4 L2362.0,637.5 L2362.3,639.7 L2362.4,641.8 L2362.5,644.0 L2362.5,695.0 L2362.4,692.8 L2362.3,690.7 L2362.0,688.5 L2361.6,686.4 L2361.1,684.2 L2360.5,682.1 L2359.8,680.0 L2359.0,677.9 L2358.1,675.8 L2357.1,673.8 L2356.0,671.8 L2354.8,669.8 L2353.4,667.8 L2352.0,665.9 L2350.5,664.0 L2348.9,662.2 L2347.2,660.4 L2345.4,658.6 L2343.5,656.9 L2341.6,655.2 L2339.5,653.6 L2337.4,652.0 L2335.2,650.5Z" fill="#0670B4" stroke="#0670B4" stroke-width="1"/>
<path d="M2189.5,644.0 L2189.6,641.4 L2189.8,638.9 L2190.2,636.4 L2190.2,687.4 L2189.8,689.9 L2189.6,692.4 L2189.5,695.0Z" fill="#2A86C0" stroke="#2A86C0" stroke-width="1"/>
<path d="M2190.2,636.4 L2190.6,634.2 L2191.2,632.0 L2191.8,629.9 L2192.6,627.8 L2193.5,625.7 L2194.5,623.6 L2195.6,621.5 L2196.8,619.5 L2198.1,617.5 L2199.5,615.6 L2201.0,613.7 L2202.6,611.8 L2204.2,609.9 L2206.0,608.1 L2207.9,606.4 L2209.8,604.7 L2211.9,603.0 L2214.0,601.5 L2216.2,599.9 L2218.5,598.4 L2220.9,597.0 L2220.9,648.0 L2218.5,649.4 L2216.2,650.9 L2214.0,652.5 L2211.9,654.0 L2209.8,655.7 L2207.9,657.4 L2206.0,659.1 L2204.2,660.9 L2202.6,662.8 L2201.0,664.7 L2199.5,666.6 L2198.1,668.5 L2196.8,670.5 L2195.6,672.5 L2194.5,674.6 L2193.5,676.7 L2192.6,678.8 L2191.8,680.9 L2191.2,683.0 L2190.6,685.2 L2190.2,687.4Z" fill="#4E8EC0" stroke="#4E8EC0" stroke-width="1"/>
<path d="M2220.9,597.0 L2223.2,595.7 L2225.6,594.4 L2228.1,593.2 L2230.7,592.0 L2233.3,591.0 L2235.9,589.9 L2238.6,589.0 L2241.4,588.1 L2244.2,587.3 L2244.2,638.3 L2241.4,639.1 L2238.6,640.0 L2235.9,640.9 L2233.3,642.0 L2230.7,643.0 L2228.1,644.2 L2225.6,645.4 L2223.2,646.7 L2220.9,648.0Z" fill="#6A9EB4" stroke="#6A9EB4" stroke-width="1"/>
<path d="M2244.2,587.3 L2247.2,586.5 L2250.3,585.8 L2253.4,585.1 L2256.6,584.6 L2259.8,584.1 L2259.8,635.1 L2256.6,635.6 L2253.4,636.1 L2250.3,636.8 L2247.2,637.5 L2244.2,638.3Z" fill="#3E7898" stroke="#3E7898" stroke-width="1"/>
<path d="M2259.8,584.1 L2263.0,583.7 L2266.2,583.4 L2269.5,583.2 L2272.7,583.0 L2276.0,583.0 L2276.0,634.0 L2272.7,634.0 L2269.5,634.2 L2266.2,634.4 L2263.0,634.7 L2259.8,635.1Z" fill="#3A80A8" stroke="#3A80A8" stroke-width="1"/>
</g>
<path d="M2276.0,395.5 L2288.7,395.7 L2301.5,396.1 L2314.2,396.9 L2326.8,398.1 L2339.4,399.5 L2351.9,401.2 L2364.3,403.3 L2376.6,405.7 L2388.7,408.4 L2400.7,411.3 L2412.6,414.6 L2424.3,418.2 L2435.7,422.1 L2447.0,426.2 L2458.1,430.7 L2468.9,435.4 L2479.5,440.4 L2489.8,445.6 L2499.8,451.1 L2509.6,456.9 L2519.0,462.9 L2335.2,599.5 L2332.9,598.1 L2330.5,596.7 L2328.1,595.3 L2325.6,594.0 L2323.0,592.8 L2320.4,591.6 L2317.7,590.5 L2314.9,589.5 L2312.1,588.6 L2309.3,587.7 L2306.4,586.9 L2303.5,586.2 L2300.5,585.5 L2297.5,584.9 L2294.5,584.4 L2291.4,584.0 L2288.4,583.6 L2285.3,583.4 L2282.2,583.2 L2279.1,583.0 L2276.0,583.0Z" fill="#0880C4" stroke="#0880C4" stroke-width="1"/>
<path d="M2519.0,462.9 L2527.9,468.9 L2536.5,475.2 L2544.7,481.6 L2552.7,488.3 L2560.3,495.1 L2567.5,502.2 L2574.4,509.4 L2580.9,516.8 L2587.1,524.3 L2592.9,532.0 L2598.3,539.8 L2603.3,547.7 L2607.9,555.8 L2612.1,563.9 L2615.8,572.2 L2619.2,580.5 L2622.2,588.9 L2624.7,597.4 L2626.8,606.0 L2628.5,614.6 L2629.8,623.2 L2630.6,631.9 L2631.0,640.5 L2630.9,649.2 L2630.4,657.9 L2629.5,666.5 L2628.2,675.1 L2626.4,683.7 L2624.2,692.3 L2621.6,700.7 L2618.6,709.2 L2615.1,717.5 L2611.3,725.7 L2607.0,733.9 L2602.3,741.9 L2597.2,749.8 L2354.3,670.0 L2355.5,668.0 L2356.6,666.1 L2357.7,664.1 L2358.6,662.0 L2359.5,660.0 L2360.2,657.9 L2360.9,655.8 L2361.4,653.8 L2361.8,651.6 L2362.1,649.5 L2362.4,647.4 L2362.5,645.3 L2362.5,643.1 L2362.4,641.0 L2362.2,638.9 L2361.9,636.8 L2361.5,634.7 L2361.0,632.6 L2360.4,630.5 L2359.6,628.4 L2358.8,626.4 L2357.9,624.3 L2356.9,622.3 L2355.7,620.4 L2354.5,618.4 L2353.2,616.5 L2351.8,614.6 L2350.3,612.8 L2348.7,611.0 L2347.0,609.2 L2345.3,607.5 L2343.4,605.8 L2341.5,604.1 L2339.5,602.6 L2337.4,601.0 L2335.2,599.5Z" fill="#0896E4" stroke="#0896E4" stroke-width="1"/>
<path d="M2597.2,749.8 L2591.7,757.6 L2585.8,765.3 L2579.5,772.9 L2572.9,780.2 L2565.9,787.5 L2558.5,794.5 L2550.8,801.3 L2542.7,808.0 L2534.3,814.4 L2525.6,820.7 L2516.6,826.7 L2507.3,832.5 L2497.7,838.1 L2487.8,843.4 L2477.7,848.5 L2467.3,853.3 L2456.7,857.9 L2445.9,862.2 L2434.8,866.2 L2423.6,870.0 L2412.2,873.5 L2400.6,876.7 L2388.8,879.6 L2376.9,882.2 L2364.9,884.6 L2352.8,886.6 L2340.6,888.4 L2328.3,889.8 L2315.9,890.9 L2303.5,891.8 L2291.1,892.3 L2278.6,892.5 L2266.2,892.4 L2253.7,892.0 L2270.6,704.9 L2273.6,705.0 L2276.6,705.0 L2279.7,704.9 L2282.7,704.8 L2285.7,704.6 L2288.7,704.3 L2291.7,704.0 L2294.7,703.6 L2297.7,703.1 L2300.6,702.5 L2303.5,701.8 L2306.4,701.1 L2309.2,700.3 L2312.0,699.5 L2314.7,698.6 L2317.4,697.6 L2320.0,696.5 L2322.6,695.4 L2325.1,694.2 L2327.6,692.9 L2330.0,691.6 L2332.4,690.3 L2334.6,688.9 L2336.8,687.4 L2338.9,685.8 L2341.0,684.3 L2343.0,682.6 L2344.8,680.9 L2346.6,679.2 L2348.3,677.4 L2350.0,675.6 L2351.5,673.8 L2352.9,671.9 L2354.3,670.0Z" fill="#08A4FC" stroke="#08A4FC" stroke-width="1"/>
<path d="M2253.7,892.0 L2241.1,891.3 L2228.6,890.3 L2216.2,888.9 L2203.8,887.3 L2191.5,885.4 L2179.3,883.1 L2167.2,880.5 L2155.3,877.7 L2143.5,874.5 L2131.9,871.1 L2120.5,867.4 L2109.2,863.4 L2098.2,859.1 L2087.4,854.5 L2076.9,849.7 L2066.6,844.6 L2056.5,839.3 L2046.7,833.7 L2037.3,827.9 L2028.1,821.9 L2019.2,815.6 L2010.7,809.1 L2002.5,802.4 L1994.6,795.5 L1987.1,788.4 L1980.0,781.1 L1973.2,773.7 L1966.8,766.1 L1960.8,758.3 L1955.2,750.4 L1950.0,742.4 L1945.2,734.2 L1940.9,725.9 L1936.9,717.6 L1933.4,709.1 L1930.3,700.5 L1927.7,691.9 L1925.4,683.2 L1923.7,674.5 L1922.4,665.7 L1921.5,656.9 L1921.0,648.1 L1921.1,639.2 L1921.5,630.4 L1922.4,621.6 L1923.8,612.9 L2190.2,636.4 L2189.9,638.5 L2189.6,640.7 L2189.5,642.8 L2189.5,645.0 L2189.6,647.2 L2189.8,649.3 L2190.2,651.5 L2190.6,653.6 L2191.1,655.8 L2191.8,657.9 L2192.5,660.0 L2193.4,662.1 L2194.3,664.1 L2195.4,666.1 L2196.6,668.1 L2197.8,670.1 L2199.2,672.1 L2200.7,674.0 L2202.2,675.8 L2203.9,677.7 L2205.6,679.4 L2207.4,681.2 L2209.4,682.9 L2211.4,684.5 L2213.4,686.1 L2215.6,687.7 L2217.8,689.1 L2220.1,690.6 L2222.5,691.9 L2225.0,693.3 L2227.5,694.5 L2230.1,695.7 L2232.7,696.8 L2235.4,697.9 L2238.1,698.8 L2240.9,699.7 L2243.7,700.6 L2246.6,701.4 L2249.5,702.1 L2252.4,702.7 L2255.4,703.2 L2258.4,703.7 L2261.4,704.1 L2264.5,704.5 L2267.5,704.7 L2270.6,704.9Z" fill="#40B8FF" stroke="#40B8FF" stroke-width="1"/>
<path d="M1923.8,612.9 L1925.6,604.0 L1927.9,595.2 L1930.6,586.5 L1933.8,577.9 L1937.4,569.3 L1941.5,560.9 L1945.9,552.5 L1950.8,544.3 L1956.2,536.2 L1961.9,528.2 L1968.0,520.4 L1974.6,512.7 L1981.5,505.2 L1988.8,497.9 L1996.5,490.8 L2004.5,483.9 L2012.9,477.2 L2021.6,470.7 L2030.7,464.4 L2040.0,458.3 L2049.7,452.5 L2220.9,597.0 L2218.5,598.4 L2216.2,599.9 L2214.0,601.5 L2211.9,603.0 L2209.8,604.7 L2207.9,606.4 L2206.0,608.1 L2204.2,609.9 L2202.6,611.8 L2201.0,613.7 L2199.5,615.6 L2198.1,617.5 L2196.8,619.5 L2195.6,621.5 L2194.5,623.6 L2193.5,625.7 L2192.6,627.8 L2191.8,629.9 L2191.2,632.0 L2190.6,634.2 L2190.2,636.4Z" fill="#70CCFF" stroke="#70CCFF" stroke-width="1"/>
<path d="M2049.7,452.5 L2059.4,447.1 L2069.3,441.9 L2079.5,437.0 L2090.0,432.3 L2100.7,427.9 L2111.5,423.8 L2122.6,419.9 L2133.9,416.3 L2145.3,413.0 L2244.2,587.3 L2241.4,588.1 L2238.6,589.0 L2235.9,589.9 L2233.3,591.0 L2230.7,592.0 L2228.1,593.2 L2225.6,594.4 L2223.2,595.7 L2220.9,597.0Z" fill="#94DCFF" stroke="#94DCFF" stroke-width="1"/>
<path d="M2145.3,413.0 L2157.8,409.7 L2170.6,406.7 L2183.4,404.1 L2196.4,401.8 L2209.5,399.9 L2259.8,584.1 L2256.6,584.6 L2253.4,585.1 L2250.3,585.8 L2247.2,586.5 L2244.2,587.3Z" fill="#4A9ED4" stroke="#4A9ED4" stroke-width="1"/>
<path d="M2209.5,399.9 L2222.7,398.3 L2235.9,397.1 L2249.3,396.2 L2262.6,395.7 L2276.0,395.5 L2276.0,583.0 L2272.7,583.0 L2269.5,583.2 L2266.2,583.4 L2263.0,583.7 L2259.8,584.1Z" fill="#52ACE8" stroke="#52ACE8" stroke-width="1"/>
<path d="M1615,373.9 L1909,373.9 L2244.3,409.0" stroke="#909090" stroke-width="2.6" fill="none"/>
<text x="1615.0" y="364.9" font-size="29.6" font-weight="normal" fill="#222" textLength="91.0" lengthAdjust="spacingAndGlyphs">2010+</text>
<text x="1615.0" y="399.2" font-size="29.6" font-weight="normal" fill="#B4B4B4" textLength="73.0" lengthAdjust="spacingAndGlyphs">3.0%</text>
<circle cx="2244.3" cy="409.0" r="2.7" fill="#9AA0A6"/>
<path d="M1615,437.3 L1909,437.3 L2181.9,417.3" stroke="#909090" stroke-width="2.6" fill="none"/>
<text x="1615.0" y="428.3" font-size="29.6" font-weight="normal" fill="#222" textLength="154.0" lengthAdjust="spacingAndGlyphs">2000-2009</text>
<text x="1615.0" y="462.6" font-size="29.6" font-weight="normal" fill="#B4B4B4" textLength="73.0" lengthAdjust="spacingAndGlyphs">3.0%</text>
<circle cx="2181.9" cy="417.3" r="2.7" fill="#9AA0A6"/>
<path d="M1615,500.5 L1909,500.5 L2104.3,440.8" stroke="#909090" stroke-width="2.6" fill="none"/>
<text x="1615.0" y="491.5" font-size="29.6" font-weight="normal" fill="#222" textLength="154.0" lengthAdjust="spacingAndGlyphs">1990-1999</text>
<text x="1615.0" y="525.8" font-size="29.6" font-weight="normal" fill="#B4B4B4" textLength="73.0" lengthAdjust="spacingAndGlyphs">5.0%</text>
<circle cx="2104.3" cy="440.8" r="2.7" fill="#9AA0A6"/>
<path d="M1615,564.0 L1909,564.0 L1980.5,530.3" stroke="#909090" stroke-width="2.6" fill="none"/>
<text x="1615.0" y="555.0" font-size="29.6" font-weight="normal" fill="#222" textLength="154.0" lengthAdjust="spacingAndGlyphs">1980-1989</text>
<text x="1615.0" y="589.3" font-size="29.6" font-weight="normal" fill="#B4B4B4" textLength="92.0" lengthAdjust="spacingAndGlyphs">12.0%</text>
<circle cx="1980.5" cy="530.3" r="2.7" fill="#9AA0A6"/>
<path d="M1615,794.0 L2016.1,794.5" stroke="#909090" stroke-width="2.6" fill="none"/>
<text x="1615.0" y="785.0" font-size="29.6" font-weight="normal" fill="#222" textLength="154.0" lengthAdjust="spacingAndGlyphs">1970-1979</text>
<text x="1615.0" y="819.3" font-size="29.6" font-weight="normal" fill="#B4B4B4" textLength="92.0" lengthAdjust="spacingAndGlyphs">26.0%</text>
<circle cx="2016.1" cy="794.5" r="2.7" fill="#9AA0A6"/>
<path d="M2400.2,424.5 L2938,423.8" stroke="#909090" stroke-width="2.6" fill="none"/>
<text x="2784.0" y="414.8" font-size="29.6" font-weight="normal" fill="#222" textLength="154.0" lengthAdjust="spacingAndGlyphs">1940-1949</text>
<text x="2846.0" y="449.8" font-size="29.6" font-weight="normal" fill="#B4B4B4" textLength="92.0" lengthAdjust="spacingAndGlyphs">12.0%</text>
<circle cx="2400.2" cy="424.5" r="2.7" fill="#9AA0A6"/>
<path d="M2607.3,599.8 L2938,599.5" stroke="#909090" stroke-width="2.6" fill="none"/>
<text x="2784.0" y="590.5" font-size="29.6" font-weight="normal" fill="#222" textLength="154.0" lengthAdjust="spacingAndGlyphs">1950-1959</text>
<text x="2846.0" y="625.5" font-size="29.6" font-weight="normal" fill="#B4B4B4" textLength="92.0" lengthAdjust="spacingAndGlyphs">20.0%</text>
<circle cx="2607.3" cy="599.8" r="2.7" fill="#9AA0A6"/>
<path d="M2447.7,847.2 L2938,846.7" stroke="#909090" stroke-width="2.6" fill="none"/>
<text x="2784.0" y="837.7" font-size="29.6" font-weight="normal" fill="#222" textLength="154.0" lengthAdjust="spacingAndGlyphs">1960-1969</text>
<text x="2846.0" y="872.7" font-size="29.6" font-weight="normal" fill="#B4B4B4" textLength="92.0" lengthAdjust="spacingAndGlyphs">19.0%</text>
<circle cx="2447.7" cy="847.2" r="2.7" fill="#9AA0A6"/>
<polygon points="3010,215 3028,215 2856,600 2695,957 2689,957" fill="#968C8A" opacity="0.72"/>
<path d="M2323.0,1354.0 L2262.5,1671.3 L2251.4,1669.0 L2240.3,1666.2 L2229.4,1663.1 L2218.6,1659.7 L2207.9,1655.8 L2197.4,1651.6 L2187.0,1647.0 L2176.8,1642.0 L2166.8,1636.7 L2156.9,1631.0 L2147.3,1625.0 L2137.9,1618.7 L2128.7,1612.0 L2119.7,1605.0 L2111.0,1597.7 L2102.6,1590.1 L2094.4,1582.2 L2086.6,1574.0 L2079.0,1565.6 L2071.7,1556.9 L2064.7,1547.9 L2058.0,1538.7 L2051.7,1529.3 L2045.7,1519.7 L2040.1,1509.8 L2034.8,1499.8 L2029.8,1489.6 L2025.2,1479.2 L2021.0,1468.6 L2017.2,1457.9 L2013.7,1447.1 L2010.6,1436.2 L2007.9,1425.2 L2005.6,1414.0 L2003.7,1402.9 L2002.2,1391.6 L2001.1,1380.3 L2000.3,1369.0 L2000.0,1357.6 L2000.1,1346.3 L2000.6,1334.9 L2001.4,1323.6 L2002.7,1312.3 L2004.4,1301.1 L2006.4,1289.9 L2008.9,1278.8 L2011.7,1267.8 L2014.9,1256.9 L2018.5,1246.2 L2022.5,1235.5 L2026.9,1225.1 L2031.6,1214.7 L2036.6,1204.6 L2042.1,1194.6 L2047.9,1184.8 L2054.0,1175.3 L2060.4,1165.9 L2067.2,1156.8 L2074.3,1147.9 L2081.7,1139.3 L2089.4,1131.0 L2097.4,1122.9 L2105.6,1115.1 L2114.1,1107.6 L2122.9,1100.4 L2132.0,1093.5 L2141.2,1087.0 L2150.7,1080.8 L2160.5,1074.9 L2170.4,1069.3 L2180.5,1064.1 L2190.7,1059.3 L2201.2,1054.9 L2211.8,1050.8 L2222.5,1047.0 L2233.3,1043.7 L2244.3,1040.7 L2255.4,1038.2 L2266.5,1036.0 L2277.7,1034.2 L2289.0,1032.8 L2300.3,1031.8 L2311.6,1031.2 L2323.0,1031.0Z" fill="#6FA8DC" stroke="#6FA8DC" stroke-width="1"/>
<path d="M2323.0,1354.0 L2323.0,1031.0 L2334.3,1031.2 L2345.6,1031.8 L2356.9,1032.8 L2368.1,1034.2 L2379.3,1035.9 L2390.4,1038.1 L2401.5,1040.7 L2412.4,1043.6 L2423.2,1046.9 L2433.9,1050.6 L2444.5,1054.7 L2454.9,1059.2 L2465.1,1064.0 L2475.2,1069.1 L2485.1,1074.6 L2494.8,1080.5 L2504.3,1086.7 L2513.5,1093.2 L2522.6,1100.0 L2531.3,1107.2 L2539.9,1114.6 L2548.1,1122.4 L2556.1,1130.4 L2563.8,1138.7 L2571.2,1147.3 L2578.3,1156.1 L2585.1,1165.2 L2591.5,1174.5 L2597.6,1184.0 L2603.4,1193.7 L2608.9,1203.7 L2614.0,1213.8 L2618.7,1224.1 L2623.1,1234.5 L2627.1,1245.1 L2630.7,1255.8 L2634.0,1266.7 L2636.8,1277.6 L2639.3,1288.7 L2641.4,1299.8 L2643.1,1311.0 L2644.4,1322.2 L2645.3,1333.5 L2645.9,1344.8 L2646.0,1356.1 L2645.7,1367.5 L2645.0,1378.8 L2644.0,1390.0 L2642.5,1401.3 L2640.7,1412.4 L2638.4,1423.5 L2635.8,1434.5 L2632.8,1445.4 L2629.4,1456.2 L2625.6,1466.9 L2621.5,1477.5 L2617.0,1487.8 L2612.1,1498.1 L2606.9,1508.1 L2601.3,1518.0 L2595.4,1527.6 L2589.1,1537.1 L2582.5,1546.3 L2575.6,1555.2 L2568.4,1564.0 L2560.9,1572.4 L2553.1,1580.7 L2545.0,1588.6 L2536.7,1596.2 L2528.1,1603.6 L2519.2,1610.6 L2510.1,1617.3 L2500.7,1623.7 L2491.2,1629.8 L2481.4,1635.5 L2471.4,1640.9 L2461.3,1645.9 L2451.0,1650.6 L2440.5,1654.9 L2429.9,1658.8 L2419.1,1662.4 L2408.3,1665.5 L2397.3,1668.3 L2386.2,1670.7 L2375.1,1672.8 L2363.9,1674.4 L2352.7,1675.6 L2341.4,1676.5 L2330.0,1676.9 L2318.7,1677.0 L2307.4,1676.6 L2296.1,1675.9 L2284.8,1674.7 L2273.6,1673.2 L2262.5,1671.3Z" fill="#1155CC" stroke="#1155CC" stroke-width="1"/>
<path d="M1721,1326 L2017.5,1325.1" stroke="#909090" stroke-width="2.6" fill="none"/>
<circle cx="2017.5" cy="1325.1" r="2.7" fill="#7E9CBC"/>
<text x="1721.0" y="1316.0" font-size="30" font-weight="bold" fill="#222" textLength="262.0" lengthAdjust="spacingAndGlyphs">Owner Occupied</text>
<text x="1721.0" y="1352.0" font-size="30" font-weight="bold" fill="#9A9A9A" textLength="105.0" lengthAdjust="spacingAndGlyphs">47.0%</text>
<path d="M2628.5,1382.9 L2925,1383.5" stroke="#909090" stroke-width="2.6" fill="none"/>
<circle cx="2628.5" cy="1382.9" r="2.7" fill="#6F93C8"/>
<text x="2662.0" y="1374.0" font-size="30" font-weight="bold" fill="#1A1A1A" textLength="263.0" lengthAdjust="spacingAndGlyphs">Renter Occupied</text>
<text x="2820.0" y="1408.0" font-size="30" font-weight="bold" fill="#C8C8C8" textLength="105.0" lengthAdjust="spacingAndGlyphs">53.0%</text>
<rect x="157" y="1084.0" width="1369" height="3" fill="#DCDCDC"/>
<rect x="157" y="1212.5" width="1369" height="3" fill="#DCDCDC"/>
<rect x="157" y="1341.0" width="1369" height="3" fill="#DCDCDC"/>
<rect x="157" y="1469.0" width="1369" height="3" fill="#DCDCDC"/>
<text x="101.0" y="1093.2" font-size="23" font-weight="normal" fill="#444" textLength="42.5" lengthAdjust="spacingAndGlyphs">40k</text>
<text x="101.0" y="1221.7" font-size="23" font-weight="normal" fill="#444" textLength="42.5" lengthAdjust="spacingAndGlyphs">30k</text>
<text x="101.0" y="1350.2" font-size="23" font-weight="normal" fill="#444" textLength="42.5" lengthAdjust="spacingAndGlyphs">20k</text>
<text x="101.0" y="1478.2" font-size="23" font-weight="normal" fill="#444" textLength="42.5" lengthAdjust="spacingAndGlyphs">10k</text>
<text x="116.5" y="1606.7" font-size="23" font-weight="normal" fill="#444" textLength="27.0" lengthAdjust="spacingAndGlyphs">0k</text>
<path d="M216.8,1599 V1230.2 q0,-2 2,-2 H264.8 q2,0 2,2 V1599Z" fill="#6FA8DC"/>
<path d="M271.3,1599 V1222.3 q0,-2 2,-2 H319.3 q2,0 2,2 V1599Z" fill="#1155CC"/>
<path d="M380.7,1599 V1176.5 q0,-2 2,-2 H428.7 q2,0 2,2 V1599Z" fill="#6FA8DC"/>
<path d="M435.2,1599 V1164.7 q0,-2 2,-2 H483.2 q2,0 2,2 V1599Z" fill="#1155CC"/>
<path d="M544.6,1599 V1287.0 q0,-2 2,-2 H592.6 q2,0 2,2 V1599Z" fill="#6FA8DC"/>
<path d="M599.1,1599 V1274.8 q0,-2 2,-2 H647.1 q2,0 2,2 V1599Z" fill="#1155CC"/>
<path d="M708.5,1599 V1366.5 q0,-2 2,-2 H756.5 q2,0 2,2 V1599Z" fill="#6FA8DC"/>
<path d="M763.0,1599 V1354.3 q0,-2 2,-2 H811.0 q2,0 2,2 V1599Z" fill="#1155CC"/>
<path d="M872.4,1599 V1426.8 q0,-2 2,-2 H920.4 q2,0 2,2 V1599Z" fill="#6FA8DC"/>
<path d="M926.9,1599 V1416.8 q0,-2 2,-2 H974.9 q2,0 2,2 V1599Z" fill="#1155CC"/>
<path d="M1036.3,1599 V1507.2 q0,-2 2,-2 H1084.3 q2,0 2,2 V1599Z" fill="#6FA8DC"/>
<path d="M1090.8,1599 V1500.7 q0,-2 2,-2 H1138.8 q2,0 2,2 V1599Z" fill="#1155CC"/>
<path d="M1200.2,1599 V1478.8 q0,-2 2,-2 H1248.2 q2,0 2,2 V1599Z" fill="#6FA8DC"/>
<path d="M1254.7,1599 V1468.3 q0,-2 2,-2 H1302.7 q2,0 2,2 V1599Z" fill="#1155CC"/>
<path d="M1364.1,1599 V1463.0 q0,-2 2,-2 H1412.1 q2,0 2,2 V1599Z" fill="#6FA8DC"/>
<path d="M1418.6,1599 V1452.2 q0,-2 2,-2 H1466.6 q2,0 2,2 V1599Z" fill="#1155CC"/>
<rect x="157" y="1597" width="1369" height="4.5" fill="#9A9A9A"/>
<text x="234.0" y="1625.0" font-size="19.5" font-weight="normal" fill="#333" textLength="71.0" lengthAdjust="spacingAndGlyphs">&lt; $25k</text>
<text x="378.0" y="1625.0" font-size="19.5" font-weight="normal" fill="#333" textLength="108.3" lengthAdjust="spacingAndGlyphs">$25k - 50k</text>
<text x="542.0" y="1625.0" font-size="19.5" font-weight="normal" fill="#333" textLength="108.0" lengthAdjust="spacingAndGlyphs">$50k - 75k</text>
<text x="700.0" y="1625.0" font-size="19.5" font-weight="normal" fill="#333" textLength="120.6" lengthAdjust="spacingAndGlyphs">$75k - 100k</text>
<text x="856.8" y="1625.0" font-size="19.5" font-weight="normal" fill="#333" textLength="134.6" lengthAdjust="spacingAndGlyphs">$100k - 125k</text>
<text x="1020.6" y="1625.0" font-size="19.5" font-weight="normal" fill="#333" textLength="134.2" lengthAdjust="spacingAndGlyphs">$125k - 150k</text>
<text x="1178.0" y="1625.0" font-size="19.5" font-weight="normal" fill="#333" textLength="147.6" lengthAdjust="spacingAndGlyphs">$150k - $200k</text>
<text x="1370.0" y="1625.0" font-size="19.5" font-weight="normal" fill="#333" textLength="92.0" lengthAdjust="spacingAndGlyphs">$200k  +</text>
<rect x="334.7" y="1654" width="23.2" height="23" fill="#6FA8DC"/>
<text x="375.8" y="1671.7" font-size="24.5" font-weight="normal" fill="#333" textLength="285.2" lengthAdjust="spacingAndGlyphs">5 Mile 2022 Households</text>
<rect x="702.6" y="1654" width="23.2" height="23" fill="#1155CC"/>
<text x="744.0" y="1671.7" font-size="24.5" font-weight="normal" fill="#333" textLength="288.4" lengthAdjust="spacingAndGlyphs">5 mile 2026 Households</text>
<rect x="0" y="0" width="2.6" height="1696" fill="#363636"/>
<rect x="0" y="0" width="2.6" height="216" fill="#0B4A70"/>
<rect x="0" y="1691" width="3000" height="5" fill="#333"/>
<rect x="0" y="1690" width="3000" height="1.5" fill="#222"/>
</svg>
</body></html>
